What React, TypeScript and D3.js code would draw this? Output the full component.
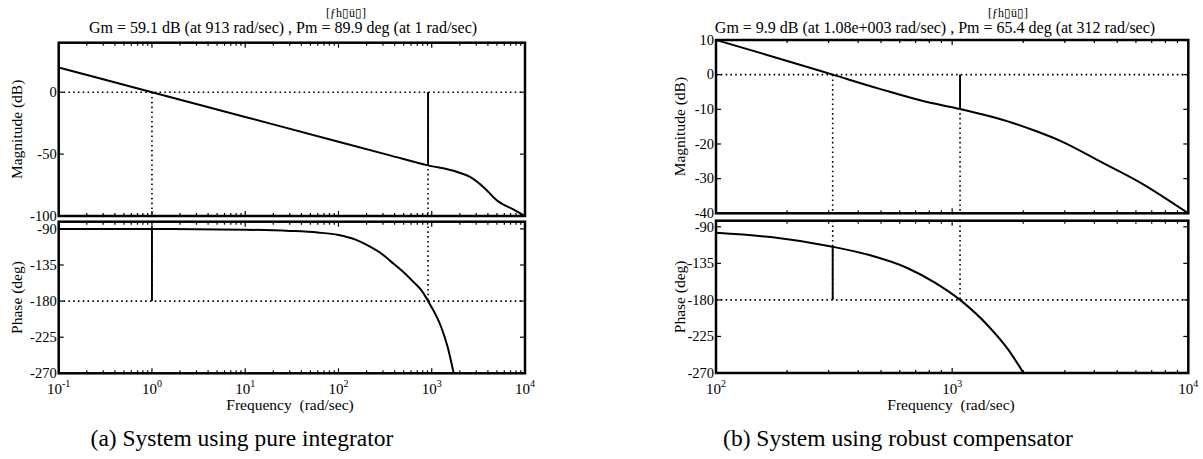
import React, { useRef, useEffect } from 'react';
import * as d3 from 'd3';

const W = 1203;
const H = 459;
const FONT = '"Liberation Serif", "Times New Roman", serif';

// (a) pure integrator
const aMagFreq = [0.1, 1, 10, 100, 357, 913, 1854, 2573, 3573, 4975, 7820, 10000];
const aMagDb = [20, 0, -20, -40, -51, -59.1, -64.3, -68.4, -76.5, -87.3, -95.4, -100];
const aPhaseFreq = [0.1, 1, 10, 30, 60, 100, 150, 201, 290, 387, 500, 635, 780, 913, 1259, 1479, 1720];
const aPhaseDeg = [-90, -90.1, -91, -92.5, -94.5, -97.5, -103, -110, -121, -133, -144, -156, -167, -180, -212, -237, -270];
const aMargins = [913, -59.1, 1, -90.1]; // gm freq, mag at gm, pm freq, phase at pm
const aMagTicks = [0, -50, -100];

// (b) robust compensator
const bMagFreq = [100, 180, 312, 493, 783, 1080, 1820, 2245, 2917, 4250, 6180, 10000];
const bMagDb = [10, 4.9, 0, -4.1, -7.9, -9.9, -14, -16.2, -19.3, -25.1, -30.9, -40];
const bPhaseFreq = [100, 174, 312, 446, 649, 845, 1080, 1429, 1725, 2005];
const bPhaseDeg = [-97.4, -103, -114.6, -124.8, -141, -158.7, -180, -212.7, -241, -270];
const bMargins = [1080, -9.9, 312, -114.6];
const bMagTicks = [10, 0, -10, -20, -30, -40];

const phaseTicks = [-90, -135, -180, -225, -270];
const aDecades = [-1, 0, 1, 2, 3, 4];
const bDecades = [2, 3, 4];

const charts = [
  {
    magF: aMagFreq, magV: aMagDb, phF: aPhaseFreq, phV: aPhaseDeg, margins: aMargins,
    magTicks: aMagTicks, decades: aDecades,
    freqDomain: [0.1, 1e4], magDomain: [-100, 40], phDomain: [-270, -81],
    x0: 58.7, x1: 525, magTop: 42.7, magBot: 216, phTop: 221.7, phBot: 373.3,
    head: '[ƒh▯ü▯]', headX: 346,
    title: 'Gm = 59.1 dB (at 913 rad/sec) , Pm = 89.9 deg (at 1 rad/sec)', titleX: 283,
    labelX: 17, freqX: 290,
    caption: '(a) System using pure integrator', captionX: 242,
  },
  {
    magF: bMagFreq, magV: bMagDb, phF: bPhaseFreq, phV: bPhaseDeg, margins: bMargins,
    magTicks: bMagTicks, decades: bDecades,
    freqDomain: [100, 1e4], magDomain: [-40, 10], phDomain: [-270, -82.5],
    x0: 716, x1: 1188.3, magTop: 40, magBot: 213.3, phTop: 220.7, phBot: 373,
    head: '[ƒh▯ü▯]', headX: 1008,
    title: 'Gm = 9.9 dB (at 1.08e+003 rad/sec) , Pm = 65.4 deg (at 312 rad/sec)', titleX: 935,
    labelX: 680, freqX: 951,
    caption: '(b) System using robust compensator', captionX: 898,
  },
];

function drawBode(svg, c) {
  const x = d3.scaleLog().domain(c.freqDomain).range([c.x0, c.x1]);
  const yM = d3.scaleLinear().domain(c.magDomain).range([c.magBot, c.magTop]);
  const yP = d3.scaleLinear().domain(c.phDomain).range([c.phBot, c.phTop]);
  const g = svg.append('g');

  const dotted = (x1, y1, x2, y2) =>
    g.append('line').attr('x1', x1).attr('y1', y1).attr('x2', x2).attr('y2', y2)
      .attr('stroke', 'black').attr('stroke-width', 1.6).attr('stroke-dasharray', '1.6,3.2');
  const solid = (x1, y1, x2, y2) =>
    g.append('line').attr('x1', x1).attr('y1', y1).attr('x2', x2).attr('y2', y2)
      .attr('stroke', 'black').attr('stroke-width', 1.9);

  const [gmF, gmV, pmF, pmV] = c.margins;

  // reference lines
  dotted(c.x0, yM(0), c.x1, yM(0));
  dotted(c.x0, yP(-180), c.x1, yP(-180));
  dotted(x(pmF), yM(0), x(pmF), c.magBot);
  dotted(x(gmF), yM(0), x(gmF), c.magBot);
  dotted(x(gmF), c.phTop, x(gmF), yP(-180));
  dotted(x(pmF), c.phTop, x(pmF), yP(-180));

  // curves
  const magLine = d3.line().x(d => x(d[0])).y(d => yM(d[1])).curve(d3.curveMonotoneX);
  const phLine = d3.line().x(d => x(d[0])).y(d => yP(d[1])).curve(d3.curveMonotoneX);
  g.append('path').datum(d3.zip(c.magF, c.magV)).attr('d', magLine)
    .attr('fill', 'none').attr('stroke', 'black').attr('stroke-width', 2);
  g.append('path').datum(d3.zip(c.phF, c.phV)).attr('d', phLine)
    .attr('fill', 'none').attr('stroke', 'black').attr('stroke-width', 2);

  // margin bars
  solid(x(gmF), yM(0), x(gmF), yM(gmV));
  solid(x(pmF), yP(pmV), x(pmF), yP(-180));

  // frames and ticks
  const freqTicks = x.ticks();
  const isMajor = t => Math.abs(Math.log10(t) - Math.round(Math.log10(t))) < 1e-6;
  [[c.magTop, c.magBot, yM, c.magTicks], [c.phTop, c.phBot, yP, phaseTicks]].forEach(([top, bot, y, yt]) => {
    freqTicks.forEach(t => {
      const len = isMajor(t) ? 5 : 3;
      solid(x(t), top, x(t), top + len).attr('stroke-width', 1.2);
      solid(x(t), bot, x(t), bot - len).attr('stroke-width', 1.2);
    });
    yt.forEach(v => {
      solid(c.x0, y(v), c.x0 + 5, y(v)).attr('stroke-width', 1.2);
      solid(c.x1, y(v), c.x1 - 5, y(v)).attr('stroke-width', 1.2);
      g.append('text').attr('x', c.x0 - 2).attr('y', y(v)).attr('dy', '0.33em')
        .attr('text-anchor', 'end').attr('font-size', 14.5).attr('font-family', FONT)
        .text(v);
    });
    g.append('rect').attr('x', c.x0).attr('y', top).attr('width', c.x1 - c.x0).attr('height', bot - top)
      .attr('fill', 'none').attr('stroke', 'black').attr('stroke-width', 2.5);
  });

  // decade labels
  c.decades.forEach(d => {
    const t = g.append('text').attr('x', x(Math.pow(10, d))).attr('y', 394)
      .attr('text-anchor', 'middle').attr('font-size', 15).attr('font-family', FONT);
    t.append('tspan').text('10');
    t.append('tspan').attr('dy', -7).attr('font-size', 10).text(d);
  });

  // axis labels
  const label = (txt, cx, cy) =>
    g.append('text').attr('transform', `translate(${cx},${cy}) rotate(-90)`).attr('dy', '0.35em')
      .attr('text-anchor', 'middle').attr('font-size', 15.5).attr('font-family', FONT).text(txt);
  label('Magnitude (dB)', c.labelX, (c.magTop + c.magBot) / 2);
  label('Phase (deg)', c.labelX, (c.phTop + c.phBot) / 2);

  g.append('text').attr('x', c.freqX).attr('y', 410).attr('text-anchor', 'middle')
    .attr('font-size', 15.5).attr('font-family', FONT).style('white-space', 'pre')
    .text('Frequency  (rad/sec)');

  // titles
  g.append('text').attr('x', c.headX).attr('y', 16.5).attr('text-anchor', 'middle')
    .attr('font-size', 12).attr('font-family', FONT).text(c.head);
  g.append('text').attr('x', c.titleX).attr('y', 32.5).attr('text-anchor', 'middle')
    .attr('font-size', 16).attr('font-family', FONT).text(c.title);

  // caption
  g.append('text').attr('x', c.captionX).attr('y', 446).attr('text-anchor', 'middle')
    .attr('font-size', 23.5).attr('font-family', FONT).text(c.caption);
}

const App = () => {
  const svgRef = useRef(null);

  useEffect(() => {
    const svg = d3.select(svgRef.current);
    svg.selectAll('*').remove();
    svg.append('rect').attr('width', W).attr('height', H).attr('fill', 'white');
    charts.forEach(c => drawBode(svg, c));
  }, []);

  return (
    <svg ref={svgRef} width={W} height={H}
      style={{ position: 'absolute', left: 0, top: 0, display: 'block' }} />
  );
};

export default App;
